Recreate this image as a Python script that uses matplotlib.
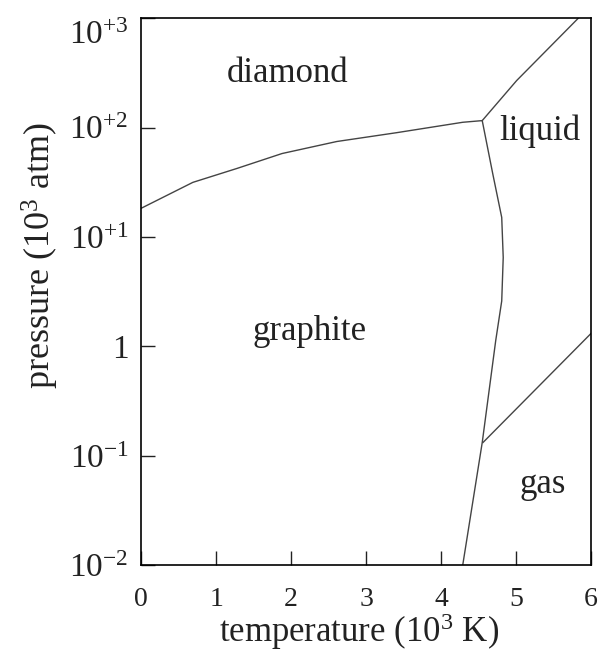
import numpy as np
import matplotlib
matplotlib.use('Agg')
import matplotlib.pyplot as plt
import matplotlib.transforms as mtransforms

plt.rcParams['font.family'] = ['Liberation Serif', 'DejaVu Serif']
plt.rcParams['mathtext.fontset'] = 'custom'
plt.rcParams['mathtext.rm'] = 'Liberation Serif'
plt.rcParams['mathtext.it'] = 'Liberation Serif:italic'

# phase boundaries (T in 10^3 K, P in 10^3 atm)
graphite_diamond_T = [0.0, 0.69, 1.28, 1.88, 2.61, 3.41, 4.29, 4.55]
graphite_diamond_P = [18.3, 31.6, 42.4, 58, 74.7, 90, 112, 116]

diamond_liquid_T = [4.55, 5.01, 5.83]
diamond_liquid_P = [116, 270, 1000]

graphite_liquid_T = [4.55, 4.69, 4.81, 4.83, 4.81, 4.73, 4.55, 4.29]
graphite_liquid_P = [116, 38, 15.1, 6.5, 2.6, 1.13, 0.132, 0.01]

liquid_gas_T = [4.56, 6.0]
liquid_gas_P = [0.132, 1.31]

x_ticks = [0, 1, 2, 3, 4, 5, 6]
y_ticks = [1e-2, 1e-1, 1, 1e1, 1e2, 1e3]
y_labels = [r'$\mathregular{10^{-2}}$', r'$\mathregular{10^{-1}}$', '1',
            r'$\mathregular{10^{+1}}$', r'$\mathregular{10^{+2}}$', r'$\mathregular{10^{+3}}$']

# region names, placed at their baselines
regions = ['diamond', 'liquid', 'graphite', 'gas']
region_T = [1.95, 5.32, 2.25, 5.35]
region_P = [259, 76.4, 1.135, 0.0453]

fig = plt.figure(figsize=(6.03, 6.54), dpi=100)
ax = fig.add_axes([0.234, 0.136, 0.746, 0.836])

lc = '#444444'
for T, P in [(graphite_diamond_T, graphite_diamond_P),
             (diamond_liquid_T, diamond_liquid_P),
             (graphite_liquid_T, graphite_liquid_P),
             (liquid_gas_T, liquid_gas_P)]:
    ax.plot(T, P, color=lc, lw=1.0)

for name, t, p in zip(regions, region_T, region_P):
    ax.text(t, p, name, fontsize=25, ha='center', va='baseline', color='#222222')

ax.set_yscale('log')
ax.set_xlim(0, 6)
ax.set_ylim(1e-2, 1e3)
ax.set_xticks(x_ticks)
ax.set_xticklabels([str(v) for v in x_ticks])
ax.set_yticks(y_ticks)
ax.set_yticklabels(y_labels)
ax.yaxis.set_minor_locator(matplotlib.ticker.NullLocator())

ax.tick_params(axis='x', direction='in', length=10, width=1, labelsize=20, pad=16, colors='#222222')
ax.tick_params(axis='y', direction='in', length=10, width=1, labelsize=24, pad=9, colors='#222222')
for s in ax.spines.values():
    s.set_linewidth(1.2)

# top label sits a bit lower so it stays inside the figure
top = ax.get_yticklabels()[-1]
top.set_transform(top.get_transform() + mtransforms.ScaledTranslation(0, -14 / 100, fig.dpi_scale_trans))

ax.set_xlabel(r'temperature (10$\mathregular{^3}$ K)', fontsize=25, labelpad=0, color='#222222')
ax.set_ylabel(r'pressure (10$\mathregular{^3}$ atm)', fontsize=26, color='#222222')
ax.xaxis.set_label_coords(0.484, -0.085)
ax.yaxis.set_label_coords(-0.179, 0.567)

fig.savefig('out.png', dpi=100)
plt.close()
